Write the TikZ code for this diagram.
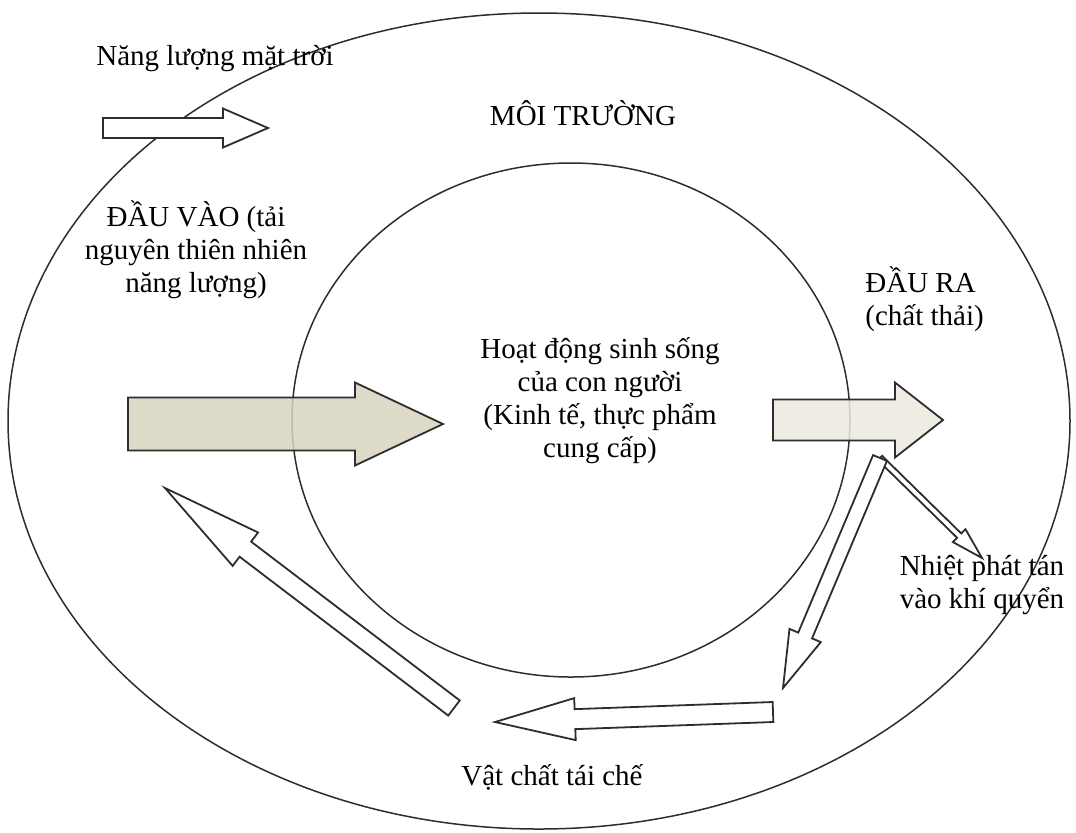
\documentclass[tikz,border=0pt]{standalone}
\usepackage{fontspec}
\setmainfont{Liberation Serif}
\usetikzlibrary{positioning, calc}

\definecolor{inputfill}{RGB}{216,211,192}
\definecolor{outputfill}{RGB}{236,234,222}
\definecolor{linegray}{RGB}{45,45,45}

% block arrow: [style] tail, tip, shaft half width, head half width, head length
\newcommand{\blockarrow}[6][]{%
	\path ($(#3)!#6!(#2)$) coordinate (#3-base);
	\draw[blockarr, #1] ($(#2)!#4!90:(#3)$) -- ($(#3-base)!#4!90:(#3)$)
		-- ($(#3-base)!#5!90:(#3)$) -- (#3) -- ($(#3-base)!#5!-90:(#3)$)
		-- ($(#3-base)!#4!-90:(#3)$) -- ($(#2)!#4!-90:(#3)$) -- cycle;}

\begin{document}
\begin{tikzpicture}[x=0.5pt, y=0.5pt,
		ring/.style={draw=linegray, line width=0.75pt},
		blockarr/.style={draw=linegray, line width=0.9pt, fill=white, line join=miter},
		lbl/.style={inner sep=0pt, align=center, font=\fontsize{14.5}{16.5}\selectfont}]
		\useasboundingbox (0, 0) rectangle (1076, -832);
		% environment and human activity
		\draw[ring] (539, -421) ellipse [x radius=531, y radius=408];
		\draw[ring] (571, -420) ellipse [x radius=279, y radius=257];
		% labels
		\node[lbl] (sunlbl) at (215, -59) {Năng lượng mặt trời};
		\node[lbl] (envlbl) at (583, -113) {MÔI TRƯỜNG};
		\node[lbl] (inlbl) at (196, -250) {ĐẦU VÀO (tải\\nguyên thiên nhiên\\năng lượng)};
		\node[lbl, align=left, anchor=west] (outlbl) at (865, -299) {ĐẦU RA\\(chất thải)};
		\node[lbl] (actlbl) at (600, -401) {Hoạt động sinh sống\\của con người\\(Kinh tế, thực phẩm\\cung cấp)};
		\node[lbl] (heatlbl) at (982, -585) {Nhiệt phát tán\\vào khí quyển};
		\node[lbl] (reclbl) at (552, -777) {Vật chất tái chế};
		% arrow ends
		\coordinate (suntail) at (103, -128);
		\coordinate (suntip) at (268, -128);
		\coordinate (intail) at (128, -424);
		\coordinate (intip) at (443, -424);
		\coordinate (outtail) at (773, -420);
		\coordinate (outtip) at (943, -420);
		\coordinate (heattail) at (880, -458);
		\coordinate (heattip) at (982, -558);
		\coordinate (downtail) at (880, -458);
		\coordinate (downtip) at (783, -688);
		\coordinate (backtail) at (773, -712);
		\coordinate (backtip) at (495, -722);
		\coordinate (uptail) at (454, -708);
		\coordinate (uptip) at (165, -488);
		% arrows
		\blockarrow{suntail}{suntip}{5pt}{9.75pt}{22.5pt}
		\blockarrow[fill=inputfill, fill opacity=0.85]{intail}{intip}{13.25pt}{20.75pt}{44pt}
		\blockarrow[fill=outputfill, fill opacity=0.85]{outtail}{outtip}{10.25pt}{18.75pt}{24pt}
		\blockarrow{heattail}{heattip}{1.5pt}{4.5pt}{16pt}
		\blockarrow{downtail}{downtip}{3.75pt}{8.5pt}{28.5pt}
		\blockarrow{backtail}{backtip}{5pt}{10.5pt}{40pt}
		\blockarrow{uptail}{uptip}{4.75pt}{10.5pt}{50.5pt}
	\end{tikzpicture}
\end{document}
